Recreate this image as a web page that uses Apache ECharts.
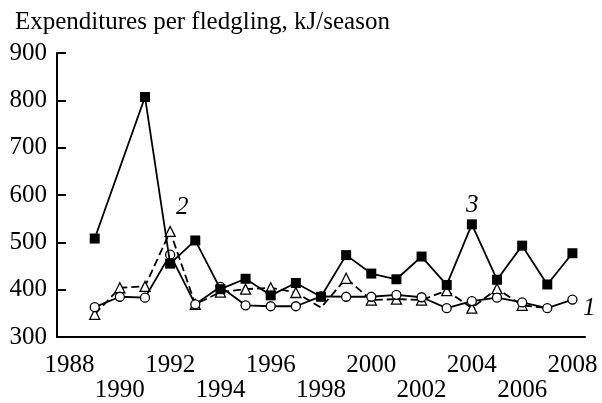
<!DOCTYPE html>
<html><head><meta charset="utf-8">
<script src="https://cdn.jsdelivr.net/npm/echarts@6/dist/echarts.min.js"></script>
<style>html,body{margin:0;padding:0;background:#fff}#c{width:602px;height:403px}</style>
</head><body><div id="c"></div>
<script>
const years = ['1988','1989','1990','1991','1992','1993','1994','1995','1996','1997','1998','1999','2000','2001','2002','2003','2004','2005','2006','2007','2008'];
const series1 = [null,363,385,383,474,369,406,367,365,365,386,385,385,389,384,361,376,383,373,361,379];
const series2 = [null,348,404,407,523,369,395,401,404,394,362,424,378,380,378,398,361,402,367,361,null];
const series3 = [null,508,null,807,455,504,401,423,388,414,385,473,434,422,470,410,538,421,493,411,477];
const hiddenMarks2 = ['1998','2007'];
const yTicks = {min:300, max:900, step:100};

const FONT = 'Liberation Serif';
const chart = echarts.init(document.getElementById('c'), null, {renderer:'canvas'});
const s2data = series2.map((v,i)=> hiddenMarks2.includes(years[i]) ? {value:v, symbol:'none'} : v);
chart.setOption({
  animation:false,
  backgroundColor:'#fff',
  title:{text:'Expenditures per fledgling, kJ/season', left:10, top:5,
    textStyle:{fontFamily:FONT, fontSize:25, fontWeight:'normal', color:'#000'}},
  grid:{left:57, right:17, top:53, bottom:65},
  xAxis:{type:'category', data:years, boundaryGap:true,
    axisLine:{lineStyle:{color:'#000', width:2}},
    axisTick:{inside:true, length:7, interval:0, lineStyle:{color:'#000', width:2}},
    axisLabel:{interval:0, margin:16, color:'#000', fontFamily:FONT, fontSize:25, lineHeight:25,
      formatter:(v,i)=> i%2 ? '' : (i%4===0 ? v : '\n'+v)},
    splitLine:{show:false}},
  yAxis:{type:'value', min:yTicks.min, max:yTicks.max, interval:yTicks.step,
    axisLine:{show:true, lineStyle:{color:'#000', width:2}},
    axisTick:{show:true, inside:true, length:9, lineStyle:{color:'#000', width:2}},
    axisLabel:{margin:10, color:'#000', fontFamily:FONT, fontSize:25},
    splitLine:{show:false}},
  series:[
    {name:'2', type:'line', data:s2data, connectNulls:true, symbol:'triangle', symbolSize:10, z:2,
      lineStyle:{color:'#000', width:1.8, type:[8,4]}, itemStyle:{color:'#fff', borderColor:'#000', borderWidth:1.3}},
    {name:'1', type:'line', data:series1, connectNulls:true, symbol:'circle', symbolSize:9, z:3,
      lineStyle:{color:'#000', width:1.8}, itemStyle:{color:'#fff', borderColor:'#000', borderWidth:1.3}},
    {name:'3', type:'line', data:series3, connectNulls:true, symbol:'rect', symbolSize:10, z:4,
      lineStyle:{color:'#000', width:1.8}, itemStyle:{color:'#000', borderColor:'#000', borderWidth:0}}
  ],
  graphic:[
    {type:'text', left:176, top:195, style:{text:'2', fontFamily:FONT, fontStyle:'italic', fontSize:25, fill:'#000'}},
    {type:'text', left:466, top:193, style:{text:'3', fontFamily:FONT, fontStyle:'italic', fontSize:25, fill:'#000'}},
    {type:'text', left:583, top:296, style:{text:'1', fontFamily:FONT, fontStyle:'italic', fontSize:25, fill:'#000'}}
  ]
});
</script></body></html>
